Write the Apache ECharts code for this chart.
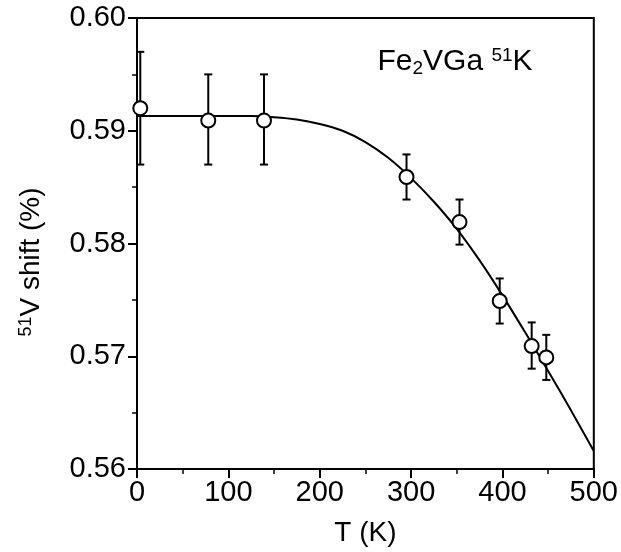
<!DOCTYPE html>
<html>
<head>
<meta charset="UTF-8">
<title>51V shift vs T</title>
<script src="https://cdn.jsdelivr.net/npm/echarts@6/dist/echarts.min.js"></script>
<style>
  html, body { margin: 0; padding: 0; background: #fff; }
  #chart { width: 621px; height: 552px; }
</style>
</head>
<body>
<div id="chart"></div>
<script>
// measured points (T in K, shift in %)
var tempK   = [3.6, 78, 139, 295, 353, 397, 432, 448];
var shift   = [0.5920, 0.5909, 0.5909, 0.5859, 0.5819, 0.5749, 0.5709, 0.5699];
var errLow  = [0.5870, 0.5870, 0.5870, 0.5839, 0.5799, 0.5729, 0.5689, 0.5679];
var errHigh = [0.5970, 0.5950, 0.5950, 0.5879, 0.5839, 0.5769, 0.5730, 0.5719];

// fitted curve
var fitT = [0, 50, 100, 125, 150, 175, 200, 225, 250, 275, 300, 325, 350, 375, 400, 425, 450, 475, 500];
var fitK = [0.5913, 0.5913, 0.5913, 0.5913, 0.5912, 0.5910, 0.5906, 0.5900, 0.5890, 0.5876, 0.5858,
            0.5837, 0.5813, 0.5785, 0.5754, 0.5721, 0.5687, 0.5652, 0.5616];

var FONT = "'Liberation Sans', Arial, Helvetica, sans-serif";

var pts = tempK.map(function (t, i) { return [t, shift[i]]; });
var bars = tempK.map(function (t, i) { return [t, errLow[i], errHigh[i]]; });
var fit = fitT.map(function (t, i) { return [t, fitK[i]]; });

var chart = echarts.init(document.getElementById('chart'), null, {renderer: 'canvas'});

var option = {
    backgroundColor: '#fff',
    animation: false,
    grid: {
        left: 137, right: 27, top: 18, bottom: 80,
        show: true, borderColor: '#000', borderWidth: 2, backgroundColor: 'transparent'
    },
    xAxis: {
        type: 'value', min: 0, max: 500, interval: 100,
        name: 'T (K)', nameLocation: 'middle', nameGap: 50,
        nameTextStyle: {fontFamily: FONT, fontSize: 28, color: '#000'},
        axisLine: {lineStyle: {color: '#000', width: 2}},
        axisTick: {inside: false, length: 9, lineStyle: {color: '#000', width: 2}},
        minorTick: {show: true, splitNumber: 2, length: 5, lineStyle: {color: '#000', width: 1.5}},
        axisLabel: {fontFamily: FONT, fontSize: 29, color: '#000', margin: 9},
        splitLine: {show: false}
    },
    yAxis: {
        type: 'value', min: 0.56, max: 0.60, interval: 0.01,
        axisLine: {lineStyle: {color: '#000', width: 2}},
        axisTick: {inside: false, length: 9, lineStyle: {color: '#000', width: 2}},
        minorTick: {show: true, splitNumber: 2, length: 5, lineStyle: {color: '#000', width: 1.5}},
        axisLabel: {
            fontFamily: FONT, fontSize: 29, color: '#000', margin: 11,
            formatter: function (v) { return v.toFixed(2); }
        },
        splitLine: {show: false}
    },
    graphic: [
        {
            type: 'text', x: 31, y: 262, rotation: Math.PI / 2,
            style: {
                text: '{sup|51}V shift (%)',
                fontFamily: FONT, fontSize: 28, fill: '#000',
                align: 'center', verticalAlign: 'middle',
                rich: {
                    sup: {fontFamily: FONT, fontSize: 18, lineHeight: 16, verticalAlign: 'top', fill: '#000'}
                }
            }
        },
        {
            type: 'text', x: 455, y: 62,
            style: {
                text: 'Fe{sub|2}VGa {sup|51}K',
                fontFamily: FONT, fontSize: 30, lineHeight: 32, fill: '#000',
                align: 'center', verticalAlign: 'middle',
                rich: {
                    sub: {fontFamily: FONT, fontSize: 19, lineHeight: 14, verticalAlign: 'bottom', fill: '#000'},
                    sup: {fontFamily: FONT, fontSize: 19, lineHeight: 16, verticalAlign: 'top', fill: '#000'}
                }
            }
        }
    ],
    series: [
        {
            type: 'line', data: fit, smooth: 0.3, showSymbol: false, silent: true,
            lineStyle: {color: '#000', width: 2}, z: 2
        },
        {
            type: 'custom', data: bars, z: 3, silent: true,
            renderItem: function (params, api) {
                var lo = api.coord([api.value(0), api.value(1)]);
                var hi = api.coord([api.value(0), api.value(2)]);
                var cap = 4;
                var st = {stroke: '#000', lineWidth: 2};
                return {
                    type: 'group',
                    children: [
                        {type: 'line', shape: {x1: lo[0], y1: lo[1], x2: hi[0], y2: hi[1]}, style: st},
                        {type: 'line', shape: {x1: lo[0] - cap, y1: lo[1], x2: lo[0] + cap, y2: lo[1]}, style: st},
                        {type: 'line', shape: {x1: hi[0] - cap, y1: hi[1], x2: hi[0] + cap, y2: hi[1]}, style: st}
                    ]
                };
            }
        },
        {
            type: 'scatter', data: pts, symbol: 'circle', symbolSize: 14, z: 4,
            itemStyle: {color: '#fff', borderColor: '#000', borderWidth: 2, opacity: 1}
        }
    ]
};

chart.setOption(option);
</script>
</body>
</html>
